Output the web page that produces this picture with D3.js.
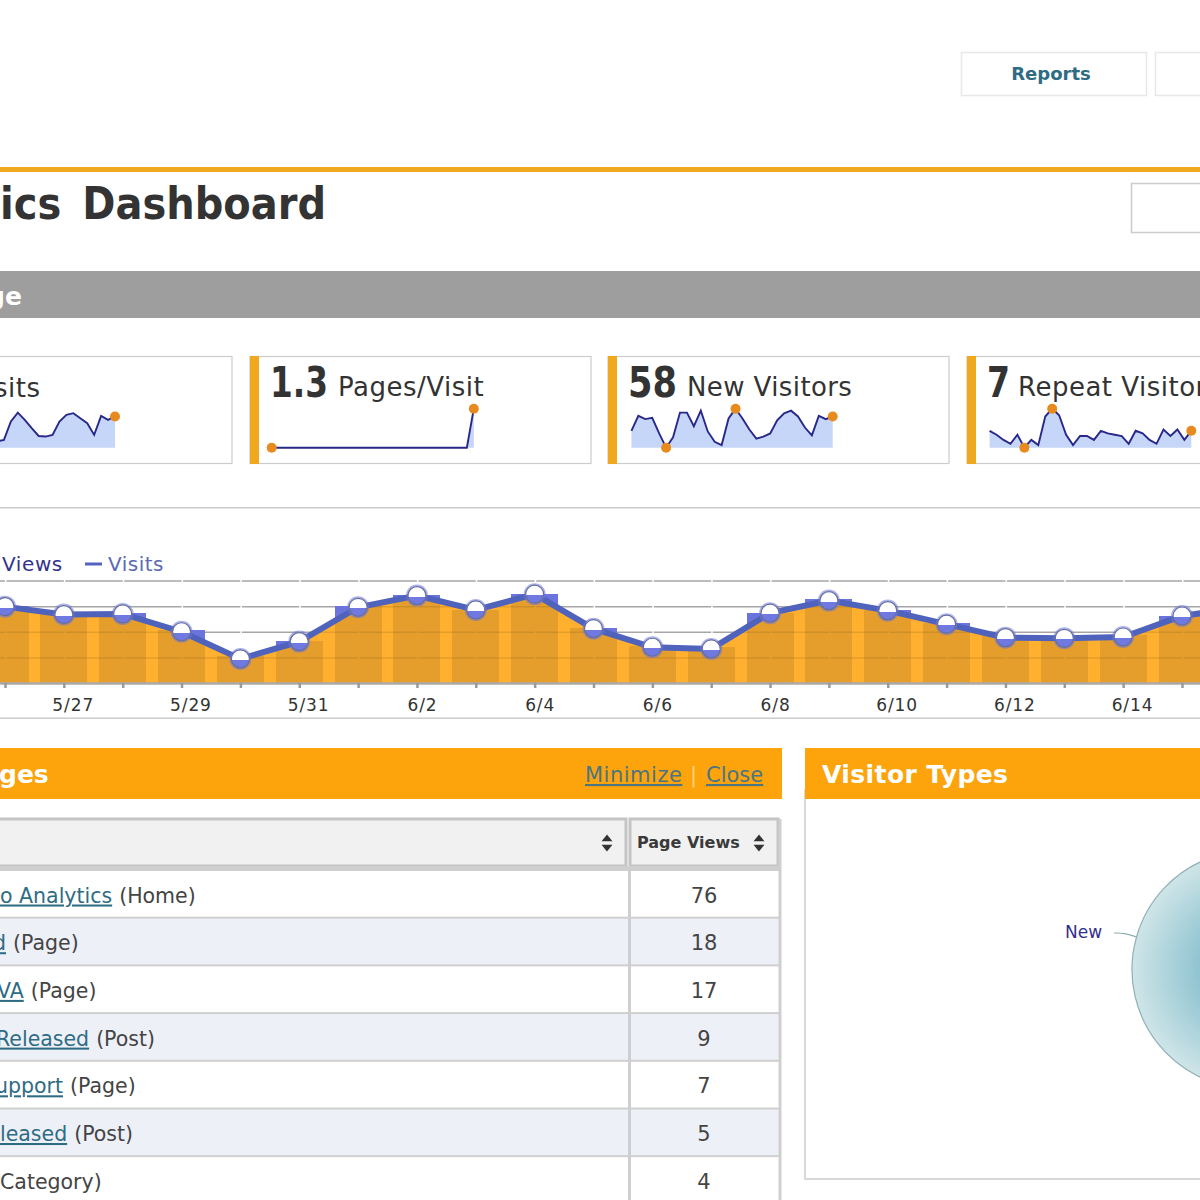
<!DOCTYPE html>
<html>
<head>
<meta charset="utf-8">
<script src="https://cdn.jsdelivr.net/npm/d3@7.9.0/dist/d3.min.js"></script>
<style>
  html, body { margin: 0; padding: 0; background: #fff; overflow: hidden; }
  svg { display: block; }
  text { font-family: "DejaVu Sans", sans-serif; }
</style>
</head>
<body>
<svg id="page" width="1200" height="1200"></svg>
<script>
// main chart
const days = ['5/25','5/26','5/27','5/28','5/29','5/30','5/31','6/1','6/2','6/3','6/4','6/5','6/6','6/7','6/8','6/9','6/10','6/11','6/12','6/13','6/14','6/15','6/16'];
const dayLabels = ['5/27','5/29','5/31','6/2','6/4','6/6','6/8','6/10','6/12','6/14'];
const pageViews = [5.9,6.0,5.4,5.5,4.1,2.1,3.3,6.0,6.9,5.7,6.95,4.3,2.85,2.8,5.45,6.55,5.7,4.7,3.75,3.7,3.75,5.25,5.55];
const visits = [5.8,5.96,5.34,5.39,4.0,1.88,3.23,5.91,6.82,5.7,6.93,4.24,2.79,2.66,5.45,6.43,5.65,4.59,3.54,3.49,3.59,5.23,5.9];

// sparklines
const sparkVisits = [1.1,1.4,4.7,6.3,5.0,3.5,2.1,2.0,2.3,4.7,5.9,6.2,5.3,4.4,2.3,5.7,5.0,5.6];
const sparkPages = [1,1,1,1,1,1,1,1,1,1,1,1,1,1,1,1,1,1,1,1,1,1,1,1,1,1,1,1,1,1.3];
const sparkNew = [2.6,4.9,4.4,4.6,2.2,0,1.6,5.4,5.4,3.3,5.7,2.5,0.9,0.4,4.5,6,4.5,2.8,1.4,1.7,2.2,4.2,5.3,5.7,4.8,3.1,1.9,4.9,4.4,4.8];
const sparkRepeat = [1.3,1.0,0.6,0.3,1.0,0,0.6,0.2,2.4,3,2.5,1.0,0.2,0.9,0.9,0.6,1.3,1.1,1.0,0.9,0.3,1.3,1.1,0.6,0.3,1.4,0.9,1.4,0.6,1.3];

// table
const pageLinks = ['o Analytics','d','VA','Released','upport','leased',''];
const pageKinds = ['(Home)','(Page)','(Page)','(Post)','(Page)','(Post)','Category)'];
const pageCounts = [76,18,17,9,7,5,4];

// pie
const visitorTypes = ['New','Repeat'];
const visitorCounts = [58,7];

const svg = d3.select('#page');
const defs = svg.append('defs');

function label(parent, x, y, str, size, color, opts) {
    opts = opts || {};
    const t = parent.append('text')
        .attr('x', x).attr('y', y)
        .attr('font-size', size)
        .attr('fill', color)
        .attr('font-weight', opts.bold ? 'bold' : 'normal')
        .attr('text-anchor', opts.anchor || 'start')
        .attr('letter-spacing', opts.spacing || 0)
        .attr('word-spacing', opts.wordSpacing || 0)
        .attr('text-decoration', opts.underline ? 'underline' : 'none')
        .text(str);
    // squeeze wide DejaVu digits to the width in the picture
    if (opts.fit) t.attr('textLength', opts.fit).attr('lengthAdjust', 'spacingAndGlyphs');
    return t;
}

function box(x, y, w, h, fill, stroke, sw) {
    return svg.append('rect')
        .attr('x', x).attr('y', y).attr('width', w).attr('height', h)
        .attr('fill', fill).attr('stroke', stroke || 'none').attr('stroke-width', sw || 0);
}

const teal = '#2e6c84';
const textDark = '#333';
const barOrange = '#f0a81f';

// top of the page
box(961.5, 52.5, 185, 43, '#fff', '#e8e8e8', 1.5);
box(1155.5, 52.5, 60, 43, '#fff', '#e8e8e8', 1.5);
label(svg, 1051, 79.5, 'Reports', 18, teal, { bold: true, anchor: 'middle' });
box(0, 167, 1200, 5, barOrange);
label(svg, 0, 219, 'ics Dashboard', 44, textDark, { bold: true, wordSpacing: 8, fit: 326 });
box(1131.5, 183.5, 80, 49, '#fff', '#ccc', 1.5);
box(0, 271, 1200, 47, '#9e9e9e');
label(svg, -13, 305, 'ge', 25, '#fff', { bold: true });

// stat cards
box(-10, 356.5, 242, 107, '#fff', '#ccc', 1.2);
box(250, 356.5, 341, 107, '#fff', '#ccc', 1.2);
box(608, 356.5, 341, 107, '#fff', '#ccc', 1.2);
box(967, 356.5, 260, 107, '#fff', '#ccc', 1.2);
[250, 608, 967].forEach((x) => box(x, 356, 9, 108, barOrange));

label(svg, -6, 397, 'sits', 26, textDark, { spacing: 0.5 });
label(svg, 270, 397, '1.3', 43, textDark, { bold: true, fit: 58 });
label(svg, 338, 396, 'Pages/Visit', 26, textDark, { spacing: 0.5 });
label(svg, 628, 397, '58', 43, textDark, { bold: true, fit: 49 });
label(svg, 687, 396, 'New Visitors', 26, textDark, { spacing: 0.4 });
label(svg, 987, 397, '7', 43, textDark, { bold: true, fit: 23 });
label(svg, 1018, 396, 'Repeat Visitor', 26, textDark, { spacing: 0.5 });

function sparkline(values, firstX, lastX, yMin, yMax, dotIndexes) {
    const x = d3.scaleLinear().domain([0, values.length - 1]).range([firstX, lastX]);
    const y = d3.scaleLinear().domain([yMin, yMax]).range([447.7, 408.7]);
    const g = svg.append('g');
    g.append('path')
        .attr('fill', '#c6d6f8')
        .attr('d', d3.area().x((d, i) => x(i)).y0(y(yMin)).y1((d) => y(d))(values));
    g.append('path')
        .attr('fill', 'none')
        .attr('stroke', '#28288a')
        .attr('stroke-width', 1.9)
        .attr('d', d3.line().x((d, i) => x(i)).y((d) => y(d))(values));
    dotIndexes.forEach((i) => {
        g.append('circle').attr('cx', x(i)).attr('cy', y(values[i])).attr('r', 5).attr('fill', '#e88b1e');
    });
}

sparkline(sparkVisits, -3, 115, 0, 7, [17]);
sparkline(sparkPages, 271.7, 473.8, 1, 1.3, [0, 29]);
sparkline(sparkNew, 631.4, 832.7, 0, 6, [5, 15, 29]);
sparkline(sparkRepeat, 989.6, 1191.3, 0, 3, [5, 9, 29]);

// chart frame and legend
box(0, 507, 1200, 1.5, '#ccc');
box(0, 717.5, 1200, 1.5, '#ccc');
label(svg, 2, 571, 'Views', 20, '#33338c', { spacing: 0.6 });
box(85, 562.5, 17, 3, '#5563c0');
label(svg, 108, 571, 'Visits', 20, '#5a6ab4', { spacing: 0.5 });

// main chart
const stepX = 58.85;
const x = d3.scalePoint().domain(days).range([5 - stepX, 5 + stepX * (days.length - 2)]);
const y = d3.scaleLinear().domain([0, 8]).range([683, 580.5]);
const barWidth = 47;

const areaGen = d3.area()
    .x((d, i) => x(days[i]))
    .y0(y(0))
    .y1((d) => y(d));
const lineGen = d3.line()
    .x((d, i) => x(days[i]))
    .y((d) => y(d));

defs.append('clipPath').attr('id', 'under-visits')
    .append('path').attr('d', areaGen(visits));

const glass = defs.append('linearGradient').attr('id', 'glass')
    .attr('x1', 0).attr('x2', 0).attr('y1', 0).attr('y2', 1);
glass.append('stop').attr('offset', 0.56).attr('stop-color', '#fff');
glass.append('stop').attr('offset', 0.56).attr('stop-color', '#6f79e0');

const chart = svg.append('g');

// grid lines break at every tick
function drawGrid(parent, color, opacity) {
    const grid = parent.append('g')
        .call(d3.axisLeft(y).tickValues([2, 4, 6, 8]).tickSize(-1200).tickFormat(''));
    grid.select('.domain').remove();
    grid.selectAll('line')
        .attr('stroke', color)
        .attr('stroke-opacity', opacity)
        .attr('stroke-width', 1.5)
        .attr('stroke-dasharray', '57.35 1.5')
        .attr('stroke-dashoffset', 52.35);
}

drawGrid(chart, '#a6a6a6', 1);

chart.append('path').attr('fill', '#ffb02e').attr('d', areaGen(visits));

function drawBars(parent, color) {
    parent.selectAll('rect')
        .data(pageViews)
        .join('rect')
        .attr('x', (d, i) => x(days[i]) - barWidth / 2)
        .attr('y', (d) => y(d))
        .attr('width', barWidth)
        .attr('height', (d) => y(0) - y(d))
        .attr('fill', color)
        .attr('shape-rendering', 'crispEdges');
}
drawBars(chart.append('g'), '#6a74dc');
drawBars(chart.append('g').attr('clip-path', 'url(#under-visits)'), '#e59e2c');

// only a trace of the grid shows through the orange
drawGrid(chart.append('g').attr('clip-path', 'url(#under-visits)'), '#77551a', 0.2);

chart.append('path')
    .attr('fill', 'none')
    .attr('stroke', '#4f63bd')
    .attr('stroke-width', 6)
    .attr('d', lineGen(visits));

chart.selectAll('circle.halo')
    .data(visits)
    .join('circle')
    .attr('class', 'halo')
    .attr('cx', (d, i) => x(days[i]))
    .attr('cy', (d) => y(d))
    .attr('r', 11)
    .attr('fill', '#6a74dc')
    .attr('fill-opacity', 0.55);
chart.selectAll('circle.point')
    .data(visits)
    .join('circle')
    .attr('class', 'point')
    .attr('cx', (d, i) => x(days[i]))
    .attr('cy', (d) => y(d))
    .attr('r', 9)
    .attr('fill', 'url(#glass)')
    .attr('stroke', '#666f9c')
    .attr('stroke-width', 1.2);

const xAxis = svg.append('g')
    .attr('transform', `translate(0,${y(0)})`)
    .call(d3.axisBottom(x).tickSize(5).tickPadding(11)
        .tickFormat((d) => (dayLabels.includes(d) ? d : '')));
xAxis.select('.domain').attr('stroke', '#aaa').attr('stroke-width', 2.5);
xAxis.selectAll('.tick line').attr('stroke', '#999').attr('stroke-width', 2.5);
xAxis.selectAll('.tick text')
    .attr('font-size', 17)
    .attr('font-family', '"DejaVu Sans", sans-serif')
    .attr('letter-spacing', 0.9)
    .attr('fill', '#333')
    .attr('text-anchor', 'start')
    .attr('dx', (d) => (d.length === 3 ? -10 : -12));

// top pages panel
const panelOrange = '#fda40c';
const panelLink = '#4a7583';
box(0, 748, 782, 51, panelOrange);
label(svg, -1, 783, 'ges', 25, '#fff', { bold: true });
label(svg, 585, 782, 'Minimize', 21, panelLink, { underline: true, spacing: 0.5 });
label(svg, 690, 782, '|', 21, '#ffd27a');
label(svg, 706, 782, 'Close', 21, panelLink, { underline: true });

// table header
box(-5, 819, 631, 47, '#f1f1f1', '#c4c4c4', 3);
box(630, 819, 148, 47, '#f1f1f1', '#c4c4c4', 3);
box(0, 866, 780, 6, '#cfcfcf');
label(svg, 637, 848, 'Page Views', 16, '#3a3a3a', { bold: true });
[607, 759].forEach((cx) => {
    svg.append('path')
        .attr('d', d3.symbol(d3.symbolTriangle, 52)())
        .attr('transform', `translate(${cx},839) scale(1,0.72)`)
        .attr('fill', '#333');
    svg.append('path')
        .attr('d', d3.symbol(d3.symbolTriangle, 52)())
        .attr('transform', `translate(${cx},847) rotate(180) scale(1,0.72)`)
        .attr('fill', '#333');
});

// table rows, the first words run off the left edge by different amounts
const linkShift = [0, -7, -3, -4, -5, 0, 0];
const rowY = d3.scaleBand().domain(d3.range(pageCounts.length)).range([871, 871 + 47.7 * pageCounts.length]);
const rows = svg.append('g').selectAll('g')
    .data(pageCounts)
    .join('g')
    .attr('transform', (d, i) => `translate(0,${rowY(i)})`);
rows.append('rect')
    .attr('width', 780).attr('height', rowY.bandwidth())
    .attr('fill', (d, i) => (i % 2 ? '#eef0f8' : '#fff'));
rows.append('rect')
    .attr('y', rowY.bandwidth() - 2).attr('width', 780).attr('height', 2.5)
    .attr('fill', '#cfcfcf');
rows.each(function (d, i) {
    const row = d3.select(this);
    const link = label(row, linkShift[i], 31.5, pageLinks[i], 20.5, teal, { underline: true });
    const gap = pageLinks[i] ? linkShift[i] + link.node().getComputedTextLength() + 7 : 0;
    label(row, gap, 31.5, pageKinds[i], 20.5, '#444');
    label(row, 704, 31.5, d, 21, '#444', { anchor: 'middle' });
});
box(628, 871, 3, 329, '#cfcfcf');
box(778.5, 819, 3, 381, '#cfcfcf');

// visitor types panel
box(805, 790, 420, 389, '#fff', '#ccc', 1.5);
box(805, 748, 395, 51, panelOrange);
label(svg, 822, 783, 'Visitor Types', 25, '#fff', { bold: true, spacing: 0.4 });

const pieGlow = defs.append('radialGradient').attr('id', 'pie-glow')
    .attr('gradientUnits', 'userSpaceOnUse')
    .attr('cx', 0).attr('cy', 0).attr('r', 119);
pieGlow.append('stop').attr('offset', 0).attr('stop-color', '#7fb8c8');
pieGlow.append('stop').attr('offset', 0.45).attr('stop-color', '#92c5d1');
pieGlow.append('stop').attr('offset', 1).attr('stop-color', '#cfe5e8');

const pieStart = 125 * Math.PI / 180;
const slices = d3.pie().sort(null).startAngle(pieStart).endAngle(pieStart + 2 * Math.PI)(visitorCounts);
const pieG = svg.append('g').attr('transform', 'translate(1251,969.5)');
pieG.selectAll('path')
    .data(slices)
    .join('path')
    .attr('d', d3.arc().innerRadius(0).outerRadius(119))
    .attr('fill', 'url(#pie-glow)')
    .attr('stroke', '#8fb0b5')
    .attr('stroke-width', 1.2);
label(svg, 1065, 938, visitorTypes[0], 17, '#33308c');
svg.append('path')
    .attr('d', d3.line().curve(d3.curveBasis)([[1114, 933], [1124, 933], [1137, 937]]))
    .attr('fill', 'none')
    .attr('stroke', '#8fb0b5')
    .attr('stroke-width', 1.2);
</script>
</body>
</html>
